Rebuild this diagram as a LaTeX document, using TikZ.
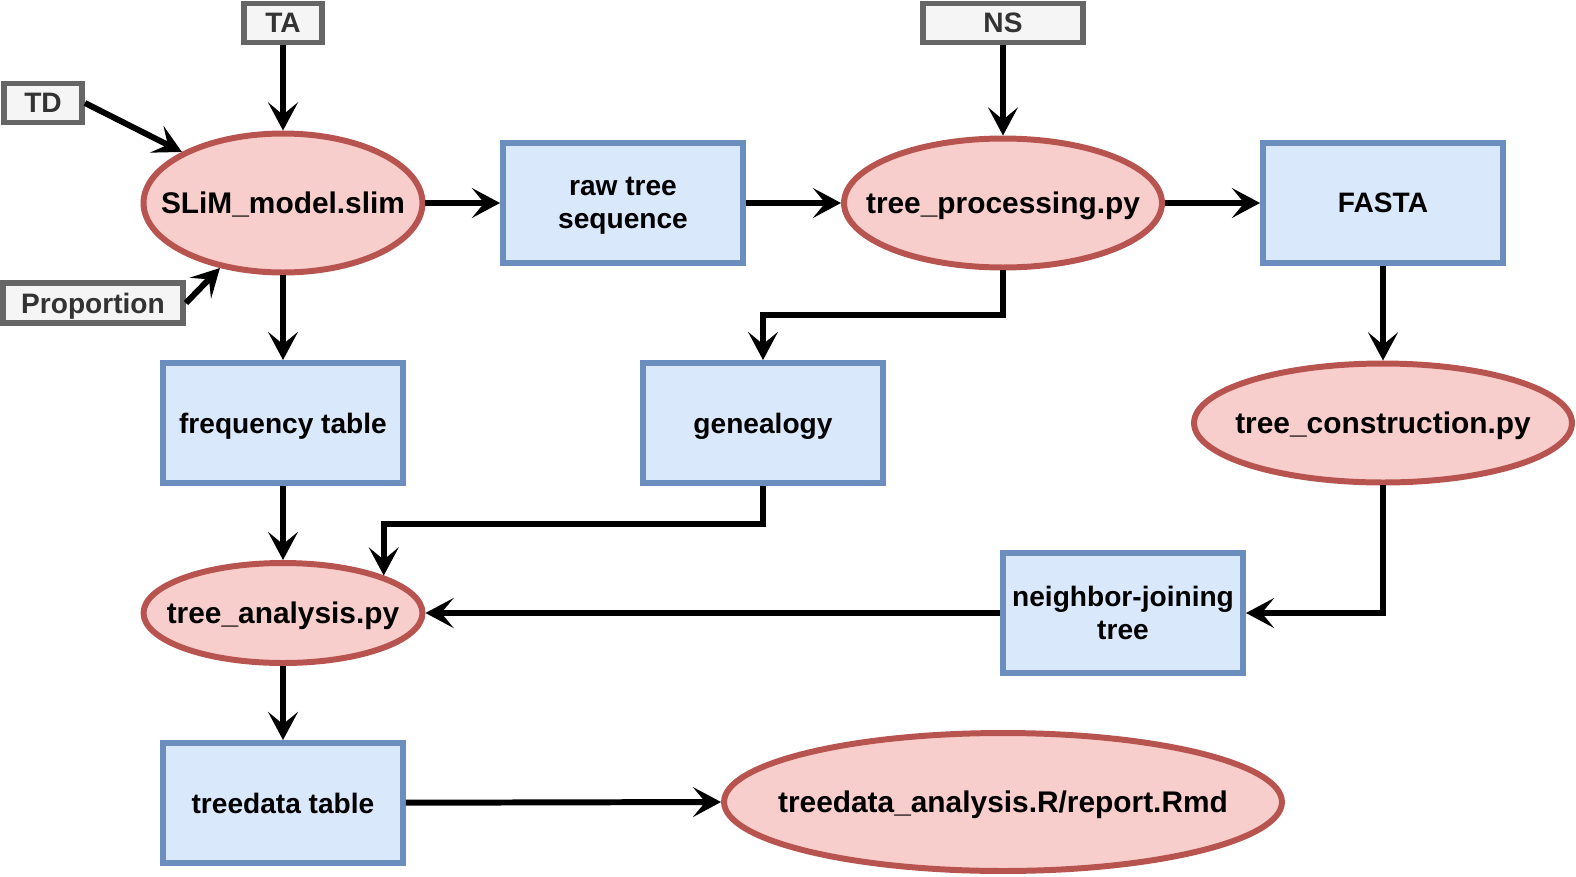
\documentclass[tikz,border=0pt]{standalone}
\usepackage{fontspec}
\setmainfont{Liberation Sans}
\usepackage{tikz}
\usetikzlibrary{shapes.geometric,arrows.meta}

\definecolor{procfill}{HTML}{F8CECC}
\definecolor{procline}{HTML}{B85450}
\definecolor{datafill}{HTML}{DAE8FC}
\definecolor{dataline}{HTML}{6C8EBF}
\definecolor{parfill}{HTML}{F5F5F5}
\definecolor{parline}{HTML}{666666}
\definecolor{partext}{HTML}{333333}
\newcommand{\zw}[1]{\makebox[0pt]{#1}}

\begin{document}
\begin{tikzpicture}[
		x=0.02cm, y=-0.02cm,
		every node/.style={font=\fontsize{16}{18.5}\selectfont\bfseries, line width=3.4pt, text depth=0pt},
		proc/.style={ellipse, draw=procline, fill=procfill, inner sep=0pt, font=\fontsize{17}{20}\selectfont\bfseries},
		data/.style={rectangle, draw=dataline, fill=datafill, minimum width=4.8cm, minimum height=2.4cm, align=center},
		param/.style={rectangle, draw=parline, fill=parfill, minimum height=0.78cm, inner sep=0pt, text=partext},
		flow/.style={-{Stealth[length=16pt, width=17pt, inset=7pt]}, line width=3.4pt}
	]
  \useasboundingbox (0,0) rectangle (1576,876);
  \node (ta) [param, minimum width=1.56cm] at (283, 23) {TA};
  \node (td) [param, minimum width=1.56cm] at (43, 103) {TD};
  \node (prop) [param, minimum width=3.6cm, minimum height=0.8cm] at (93, 303) {Proportion};
  \node (ns) [param, minimum width=3.2cm] at (1003, 23) {NS};
  \node (slim) [proc, minimum width=5.58cm, minimum height=2.78cm] at (283, 203) {\zw{SLiM\_model.slim}};
  \node (raw) [data] at (623, 203) {raw tree\\sequence};
  \node (tproc) [proc, minimum width=6.36cm, minimum height=2.58cm] at (1003, 203) {\zw{tree\_processing.py}};
  \node (fasta) [data] at (1383, 203) {FASTA};
  \node (freq) [data] at (283, 423) {frequency table};
  \node (geneal) [data] at (763, 423) {genealogy};
  \node (tcon) [proc, minimum width=7.56cm, minimum height=2.38cm] at (1383, 423) {\zw{tree\_construction.py}};
  \node (tana) [proc, minimum width=5.58cm, minimum height=2cm] at (283, 613) {\zw{tree\_analysis.py}};
  \node (nj) [data] at (1123, 613) {neighbor-joining\\tree};
  \node (tdt) [data] at (283, 803) {treedata table};
  \node (trep) [proc, minimum width=11.16cm, minimum height=2.76cm] at (1003, 802) {\zw{treedata\_analysis.R/report.Rmd}};

  \draw [flow] (ta) -- (slim);
  \draw [flow] (td.east) -- (slim);
  \draw [flow] (prop.east) -- (slim);
  \draw [flow] (ns) -- (tproc);
  \draw [flow] (slim) -- (raw);
  \draw [flow] (raw) -- (tproc);
  \draw [flow] (tproc) -- (fasta);
  \draw [flow] (slim) -- (freq);
  \draw [flow] (tproc.south) -- ++(0, 45) -| (geneal.north);
  \draw [flow] (fasta) -- (tcon);
  \draw [flow] (freq) -- (tana);
  \draw [flow] (geneal.south) -- ++(0, 38) -| (tana.north east);
  \draw [flow] (tcon.south) |- (nj.east);
  \draw [flow] (nj) -- (tana);
  \draw [flow] (tana) -- (tdt);
  \draw [flow] (tdt) -- (trep.west);
\end{tikzpicture}
\end{document}
